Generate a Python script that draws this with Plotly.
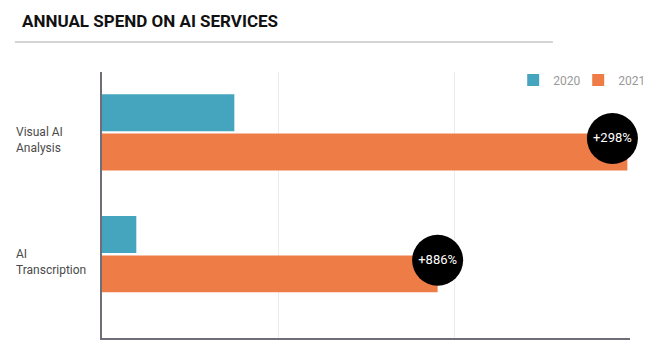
import plotly.graph_objects as go

categories = ["Visual AI<br>Analysis", "AI<br>Transcription"]
years = ["2020", "2021"]
spend_2020 = [0.752, 0.195]
spend_2021 = [2.985, 1.907]
growth_labels = ["+298%", "+886%"]

cat_pos = list(range(len(categories)))
x_max = 3.0

fig = go.Figure()
fig.add_trace(go.Bar(
    y=cat_pos, x=spend_2020, orientation="h", name=years[0],
    marker=dict(color="#45a5bf", line=dict(width=0)),
    hoverinfo="skip",
))
fig.add_trace(go.Bar(
    y=cat_pos, x=spend_2021, orientation="h", name=years[1],
    marker=dict(color="#ee7c47", line=dict(width=0)),
    hoverinfo="skip",
))

badge_x = [min(v, x_max - 0.1) for v in spend_2021]
badge_y = [p + 0.05 for p in cat_pos]
fig.add_trace(go.Scatter(
    x=badge_x, y=badge_y, mode="markers+text",
    marker=dict(size=51, color="#000000", line=dict(width=0)),
    text=growth_labels, textposition="middle center",
    textfont=dict(family="Roboto", size=13, color="#ffffff"),
    showlegend=False, hoverinfo="skip", cliponaxis=False,
))

for p, c in zip(cat_pos, categories):
    fig.add_annotation(
        xref="paper", yref="y", x=-0.167, y=p, yshift=-8,
        text=c, showarrow=False, xanchor="left", yanchor="middle", align="left",
        font=dict(family="Roboto", size=12, color="#4a4a4a"),
    )

fig.add_shape(type="line", xref="paper", yref="paper",
              x0=-0.165, x1=0.854, y0=1.113, y1=1.113,
              line=dict(color="#d4d4d4", width=2))

fig.update_layout(
    width=655, height=354,
    margin=dict(l=102, r=25, t=72, b=16, autoexpand=False),
    paper_bgcolor="#ffffff", plot_bgcolor="#ffffff",
    barmode="group", bargap=0.354, bargroupgap=0.06,
    title=dict(text="<b>ANNUAL SPEND ON AI SERVICES</b>",
               x=22 / 655, xanchor="left", xref="container",
               y=1 - 21 / 354, yanchor="middle", yref="container",
               font=dict(family="Roboto", size=17, color="#111111")),
    xaxis=dict(range=[0, x_max], dtick=1, showticklabels=False,
               showgrid=True, gridcolor="#ececec", gridwidth=1,
               zeroline=False, showline=True, linecolor="#6e6e78", linewidth=2,
               ticks=""),
    yaxis=dict(range=[1.688, -0.496], showticklabels=False, showgrid=False,
               zeroline=False, showline=True, linecolor="#6e6e78", linewidth=2,
               ticks=""),
    legend=dict(orientation="h", x=1.025, xanchor="right", y=0.97, yanchor="middle",
                entrywidth=20, entrywidthmode="pixels",
                font=dict(family="Roboto", size=12, color="#999999"),
                bgcolor="rgba(0,0,0,0)", traceorder="normal"),
    showlegend=True,
)

fig.write_html("out.html", config={"displayModeBar": False})
